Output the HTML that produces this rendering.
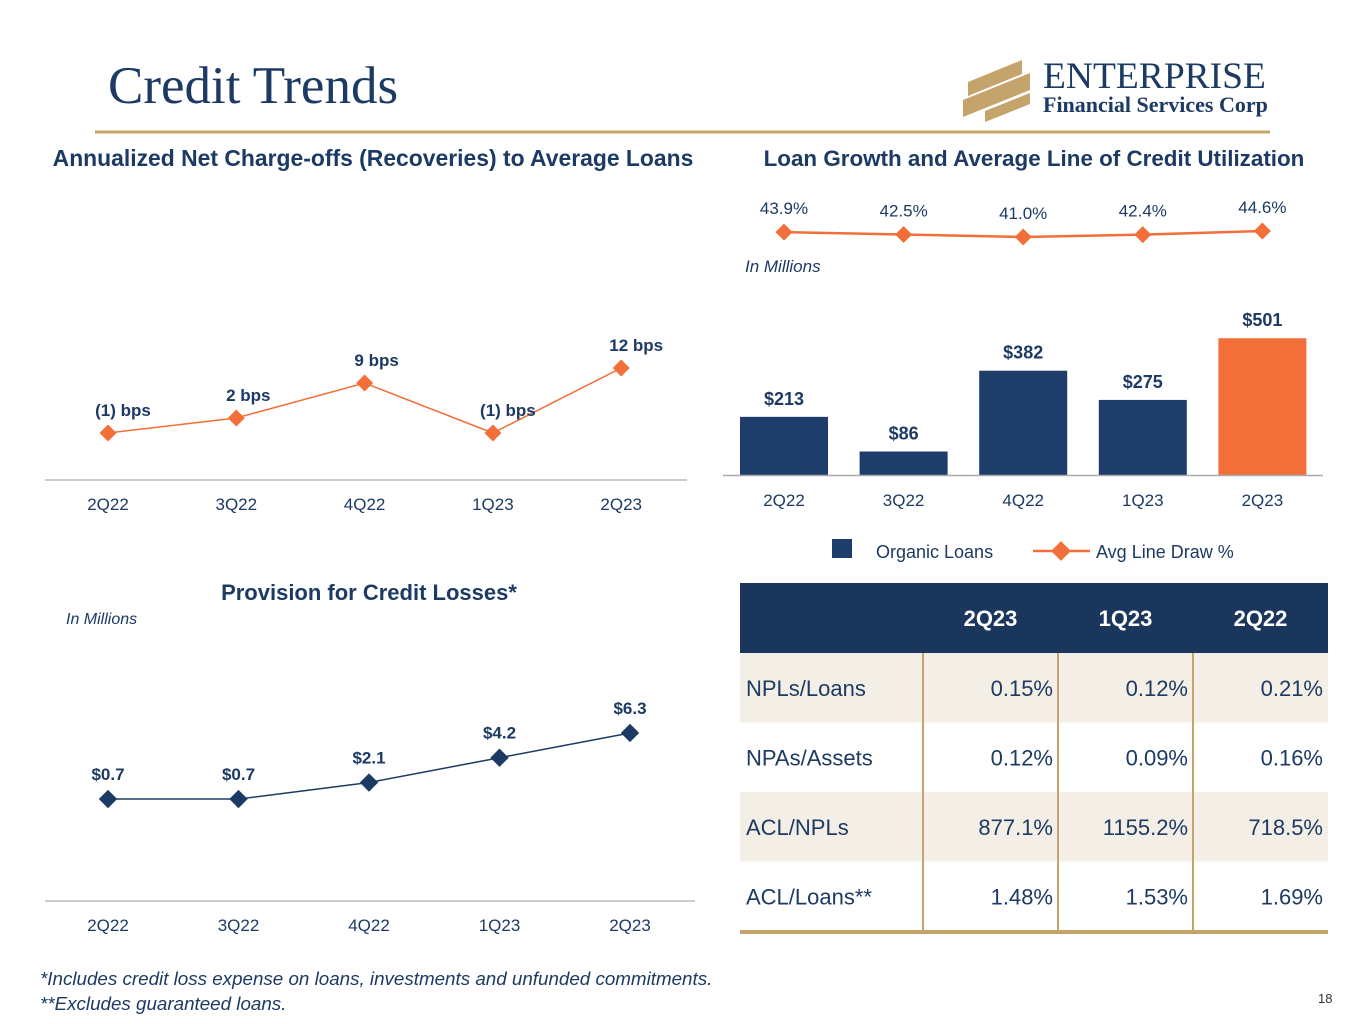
<!DOCTYPE html>
<html><head><meta charset="utf-8"><style>
body{margin:0;background:#fff}
svg{display:block}
text{font-family:"Liberation Sans",sans-serif}
.nv{fill:#1c3a63}
</style></head><body>
<svg id="s" width="1365" height="1024" viewBox="0 0 1365 1024">
<text x="108" y="103" font-size="53" class="nv" style="font-family:'Liberation Serif',serif">Credit Trends</text>
<g>
<polygon points="968,82 1022,60 1022,74 968,96" fill="#c4a46a"/>
<polygon points="963,100 1030,73 1030,90 963,117" fill="#c4a46a"/>
<polygon points="985,111 1030,93 1030,104 985,122" fill="#c4a46a"/>
<text x="1043" y="88" font-size="37.5" fill="#1c3a63" style="font-family:'Liberation Serif',serif">ENTERPRISE</text>
<text x="1043" y="112" font-size="22" font-weight="bold" fill="#1c3a63" style="font-family:'Liberation Serif',serif">Financial Services Corp</text>
</g>
<line x1="95" y1="132" x2="1270" y2="132" stroke="#c4a46a" stroke-width="3"/>
<text x="373" y="166" text-anchor="middle" font-size="22.9" font-weight="bold" class="nv">Annualized Net Charge-offs (Recoveries) to Average Loans</text>
<text x="1034" y="166" text-anchor="middle" font-size="22.4" font-weight="bold" class="nv">Loan Growth and Average Line of Credit Utilization</text>
<text x="369" y="600" text-anchor="middle" font-size="22" font-weight="bold" class="nv">Provision for Credit Losses*</text>
<text x="66" y="624" font-size="16" font-style="italic" class="nv">In Millions</text>
<text x="745" y="272" font-size="17" font-style="italic" class="nv">In Millions</text>
<g id="c1"></g><g id="c2"></g><g id="c3"></g>
<g>
<rect x="832" y="539" width="20" height="19" fill="#1f3d6b"/>
<text x="876" y="558" font-size="18" class="nv">Organic Loans</text>
<line x1="1033" y1="551" x2="1090" y2="551" stroke="#f26f3a" stroke-width="2.5"/>
<rect x="1054" y="544" width="14" height="14" fill="#f26f3a" transform="rotate(45 1061 551)"/>
<text x="1096" y="558" font-size="18" class="nv">Avg Line Draw %</text>
</g>
<g id="tbl"></g>
<text x="40" y="985" font-size="18.8" font-style="italic" class="nv">*Includes credit loss expense on loans, investments and unfunded commitments.</text>
<text x="40" y="1010" font-size="18.8" font-style="italic" class="nv">**Excludes guaranteed loans.</text>
<text x="1318" y="1003" font-size="13" fill="#333">18</text>
</svg>
<script>
const cats=["2Q22","3Q22","4Q22","1Q23","2Q23"];
const ncoVals=[-1,2,9,-1,12];
const ncoLabels=["(1) bps","2 bps","9 bps","(1) bps","12 bps"];
const drawVals=[43.9,42.5,41.0,42.4,44.6];
const loanVals=[213,86,382,275,501];
const provVals=[0.7,0.7,2.1,4.2,6.3];
const rowLabels=["NPLs/Loans","NPAs/Assets","ACL/NPLs","ACL/Loans**"];
const colHeads=["2Q23","1Q23","2Q22"];
const col2Q23=["0.15%","0.12%","877.1%","1.48%"];
const col1Q23=["0.12%","0.09%","1155.2%","1.53%"];
const col2Q22=["0.21%","0.16%","718.5%","1.69%"];
const NS="http://www.w3.org/2000/svg";
function mk(p,t,a){const e=document.createElementNS(NS,t);for(const k in a)e.setAttribute(k,a[k]);p.appendChild(e);return e;}
function txt(p,x,y,s,a){const e=mk(p,'text',Object.assign({x:x,y:y},a));e.textContent=s;return e;}
function diamond(p,x,y,r,c){return mk(p,'rect',{x:x-r,y:y-r,width:2*r,height:2*r,fill:c,transform:`rotate(45 ${x} ${y})`});}
// chart 1
const c1=document.getElementById('c1');
const x1=i=>108+i*128.3, y1=v=>428-5*v;
let l=mk(c1,'line',{x1:45,y1:480,x2:687,y2:480,stroke:'#bbb','stroke-width':1.5});


let p=mk(c1,'polyline',{points:ncoVals.map((v,i)=>x1(i)+','+y1(v)).join(' '),fill:'none',stroke:'#f26f3a','stroke-width':1.5});


ncoVals.forEach((v,i)=>{
 const d=diamond(c1,x1(i),y1(v),6,'#f26f3a');
 
 
 const t=txt(c1,x1(i)+(i==1||i==2?12:15),y1(v)-17,ncoLabels[i],{'text-anchor':'middle','font-size':17,'font-weight':'bold',fill:'#1c3a63'});
 
 
 const c=txt(c1,x1(i),510,cats[i],{'text-anchor':'middle','font-size':17,fill:'#1c3a63'});
 
 
});
// chart 2
const c2=document.getElementById('c2');
const x2=i=>784+i*119.6, yd=v=>237-1.67*(v-41), yb=v=>475-0.273*v;
p=mk(c2,'polyline',{points:drawVals.map((v,i)=>x2(i)+','+yd(v)).join(' '),fill:'none',stroke:'#f26f3a','stroke-width':2.5});


drawVals.forEach((v,i)=>{
 const d=diamond(c2,x2(i),yd(v),6,'#f26f3a');
 
 
 const t=txt(c2,x2(i),yd(v)-18,v.toFixed(1)+'%',{'text-anchor':'middle','font-size':17,fill:'#1c3a63'});
 
 
});
loanVals.forEach((v,i)=>{
 const b=mk(c2,'rect',{x:x2(i)-44,y:yb(v),width:88,height:475-yb(v),fill:i==4?'#f26f3a':'#1f3d6b'});
 
 
 const t=txt(c2,x2(i),yb(v)-12,'$'+v,{'text-anchor':'middle','font-size':18,'font-weight':'bold',fill:'#1c3a63'});
 
 
 const c=txt(c2,x2(i),506,cats[i],{'text-anchor':'middle','font-size':17,fill:'#1c3a63'});
 
 
});
l=mk(c2,'line',{x1:723,y1:475.5,x2:1323,y2:475.5,stroke:'#aaa','stroke-width':1.5});


// chart 3
const c3=document.getElementById('c3');
const x3=i=>108+i*130.5, y3=v=>807.3-11.8*v;
l=mk(c3,'line',{x1:45,y1:901,x2:695,y2:901,stroke:'#bbb','stroke-width':1.5});


p=mk(c3,'polyline',{points:provVals.map((v,i)=>x3(i)+','+y3(v)).join(' '),fill:'none',stroke:'#1c3a63','stroke-width':1.5});


provVals.forEach((v,i)=>{
 const d=diamond(c3,x3(i),y3(v),6.5,'#1c3a63');
 
 
 const t=txt(c3,x3(i),y3(v)-19,'$'+v.toFixed(1),{'text-anchor':'middle','font-size':17,'font-weight':'bold',fill:'#1c3a63'});
 
 
 const c=txt(c3,x3(i),931,cats[i],{'text-anchor':'middle','font-size':17,fill:'#1c3a63'});
 
 
});
// table
const tb=document.getElementById('tbl');
mk(tb,'rect',{x:740,y:583,width:588,height:70,fill:'#1b365d'});
const cols=[col2Q23,col1Q23,col2Q22], cb=[923,1058,1193,1328];
colHeads.forEach((h,j)=>{
 const t=txt(tb,(cb[j]+cb[j+1])/2,626,h,{'text-anchor':'middle','font-size':22,'font-weight':'bold',fill:'#fff'});
 
 
});
rowLabels.forEach((r,i)=>{
 const y=653+i*69.5;
 if(i%2==0)mk(tb,'rect',{x:740,y:y,width:588,height:69.5,fill:'#f4efe6'});
 const t=txt(tb,746,y+43,r,{'font-size':22,fill:'#1c3a63'});
 
 
 cols.forEach((c,j)=>{
  const v=txt(tb,cb[j+1]-5,y+43,c[i],{'text-anchor':'end','font-size':22,fill:'#1c3a63'});
  
  
 });
});
[923,1058,1193].forEach(x=>mk(tb,'line',{x1:x,y1:653,x2:x,y2:931,stroke:'#c4a46a','stroke-width':2}));
mk(tb,'line',{x1:740,y1:932,x2:1328,y2:932,stroke:'#c4a46a','stroke-width':4});
</script>
</body></html>
